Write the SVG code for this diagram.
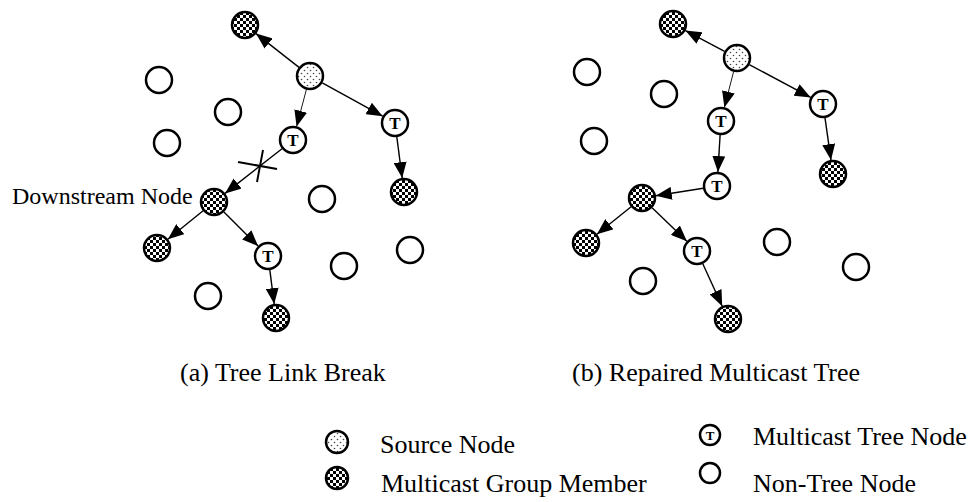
<svg xmlns="http://www.w3.org/2000/svg" width="976" height="502" viewBox="0 0 976 502">
<style>
.txt{font-family:"Liberation Serif","Times New Roman",serif;font-size:26px;fill:#000}
.nt{fill:#fff;stroke:#000;stroke-width:2.5}
.mem{fill:url(#checker);stroke:#000;stroke-width:2.5}
.src{fill:url(#dots);stroke:#000;stroke-width:2.5}
.tl{font-family:"Liberation Serif","Times New Roman",serif;font-weight:bold;font-size:17px;text-anchor:middle;fill:#000}
.e{stroke:#000;stroke-width:1.4;fill:none;marker-end:url(#ah)}
.et{stroke:#000;stroke-width:0.9;fill:none;marker-end:url(#ah)}
.x{stroke:#000;stroke-width:2;fill:none}
</style>
<defs>
<pattern id="checker" width="6" height="6" patternUnits="userSpaceOnUse">
<rect width="6" height="6" fill="#fff"/>
<rect x="0" y="0" width="3" height="3" fill="#000"/>
<rect x="3" y="3" width="3" height="3" fill="#000"/>
</pattern>
<pattern id="dots" width="6" height="6" patternUnits="userSpaceOnUse">
<rect width="6" height="6" fill="#fff"/>
<circle cx="1.5" cy="1.5" r="0.8" fill="#444"/>
<circle cx="4.5" cy="4.5" r="0.8" fill="#444"/>
</pattern>
<marker id="ah" markerWidth="16" markerHeight="13" refX="16" refY="6.5" orient="auto" markerUnits="userSpaceOnUse">
<path d="M0,0 L16,6.5 L0,13 z" fill="#000"/>
</marker>
</defs>

<g id="connectors">
<line class="e" x1="299.0" y1="67.4" x2="256.0" y2="33.6"/>
<line class="et" x1="306.4" y1="89.5" x2="296.6" y2="126.5"/>
<line class="e" x1="322.3" y1="82.8" x2="382.7" y2="116.2"/>
<line class="e" x1="282.0" y1="148.7" x2="225.0" y2="193.4"/>
<line class="e" x1="396.8" y1="136.9" x2="402.2" y2="178.1"/>
<line class="e" x1="203.1" y1="210.8" x2="167.9" y2="239.2"/>
<line class="e" x1="223.9" y1="211.9" x2="258.1" y2="246.1"/>
<line class="e" x1="269.8" y1="269.9" x2="274.2" y2="304.1"/>
<line class="x" x1="238" y1="162" x2="277" y2="169"/>
<line class="x" x1="263" y1="150" x2="257" y2="182"/>

<line class="e" x1="724.6" y1="51.4" x2="685.4" y2="30.6"/>
<line class="et" x1="733.6" y1="71.6" x2="724.4" y2="107.4"/>
<line class="e" x1="749.3" y1="64.6" x2="810.7" y2="97.4"/>
<line class="e" x1="720.1" y1="135.0" x2="717.9" y2="172.0"/>
<line class="e" x1="825.0" y1="117.9" x2="831.0" y2="160.1"/>
<line class="e" x1="703.2" y1="188.2" x2="655.8" y2="195.8"/>
<line class="e" x1="631.1" y1="206.8" x2="596.9" y2="234.2"/>
<line class="e" x1="652.1" y1="207.7" x2="686.9" y2="241.3"/>
<line class="e" x1="702.8" y1="263.7" x2="722.2" y2="306.3"/>
</g>

<g id="panel-a">
<g id="a-src"><circle class="src" cx="310" cy="76" r="13"/></g>
<g id="a-m1"><circle class="mem" cx="245" cy="25" r="13"/></g>
<g id="a-m2"><circle class="mem" cx="404" cy="192" r="13"/></g>
<g id="a-down"><circle class="mem" cx="214" cy="202" r="13"/></g>
<g id="a-m3"><circle class="mem" cx="157" cy="248" r="13"/></g>
<g id="a-m4"><circle class="mem" cx="276" cy="318" r="13"/></g>
<g id="a-t1"><circle class="nt" cx="293" cy="140" r="13"/><text class="tl" x="293" y="146">T</text></g>
<g id="a-t2"><circle class="nt" cx="395" cy="123" r="13"/><text class="tl" x="395" y="129">T</text></g>
<g id="a-t3"><circle class="nt" cx="268" cy="256" r="13"/><text class="tl" x="268" y="262">T</text></g>
<g id="a-n1"><circle class="nt" cx="159" cy="80" r="13"/></g>
<g id="a-n2"><circle class="nt" cx="228" cy="112" r="13"/></g>
<g id="a-n3"><circle class="nt" cx="167" cy="143" r="13"/></g>
<g id="a-n4"><circle class="nt" cx="322" cy="199" r="13"/></g>
<g id="a-n5"><circle class="nt" cx="410" cy="250" r="13"/></g>
<g id="a-n6"><circle class="nt" cx="344" cy="266" r="13"/></g>
<g id="a-n7"><circle class="nt" cx="208" cy="296" r="13"/></g>
<text class="txt" style="font-size:24px" x="12" y="204">Downstream Node</text>
<text class="txt" x="180" y="381">(a) Tree Link Break</text>
</g>

<g id="panel-b">
<g id="b-src"><circle class="src" cx="737" cy="58" r="13"/></g>
<g id="b-m5"><circle class="mem" cx="673" cy="24" r="13"/></g>
<g id="b-m6"><circle class="mem" cx="833" cy="174" r="13"/></g>
<g id="b-down"><circle class="mem" cx="642" cy="198" r="13"/></g>
<g id="b-m7"><circle class="mem" cx="586" cy="243" r="13"/></g>
<g id="b-m8"><circle class="mem" cx="728" cy="319" r="13"/></g>
<g id="b-t4"><circle class="nt" cx="721" cy="121" r="13"/><text class="tl" x="721" y="127">T</text></g>
<g id="b-t5"><circle class="nt" cx="823" cy="104" r="13"/><text class="tl" x="823" y="110">T</text></g>
<g id="b-t6"><circle class="nt" cx="717" cy="186" r="13"/><text class="tl" x="717" y="192">T</text></g>
<g id="b-t7"><circle class="nt" cx="697" cy="251" r="13"/><text class="tl" x="697" y="257">T</text></g>
<g id="b-n8"><circle class="nt" cx="587" cy="72" r="13"/></g>
<g id="b-n9"><circle class="nt" cx="664" cy="94" r="13"/></g>
<g id="b-n10"><circle class="nt" cx="594" cy="141" r="13"/></g>
<g id="b-n11"><circle class="nt" cx="777" cy="242" r="13"/></g>
<g id="b-n12"><circle class="nt" cx="856" cy="267" r="13"/></g>
<g id="b-n13"><circle class="nt" cx="643" cy="281" r="13"/></g>
<text class="txt" x="572" y="381">(b) Repaired Multicast Tree</text>
</g>

<g id="legend">
<g id="lg-src"><circle class="src" cx="337" cy="442" r="11"/><text class="txt" x="380" y="453">Source Node</text></g>
<g id="lg-mem"><circle class="mem" cx="337" cy="478" r="11"/><text class="txt" x="381" y="492">Multicast Group Member</text></g>
<g id="lg-t"><circle class="nt" cx="710" cy="435" r="10"/><text class="tl" style="font-size:13px" x="710" y="439.5">T</text><text class="txt" x="753" y="445">Multicast Tree Node</text></g>
<g id="lg-nt"><circle class="nt" cx="710" cy="473" r="10"/><text class="txt" x="753" y="492">Non-Tree Node</text></g>
</g>
</svg>
